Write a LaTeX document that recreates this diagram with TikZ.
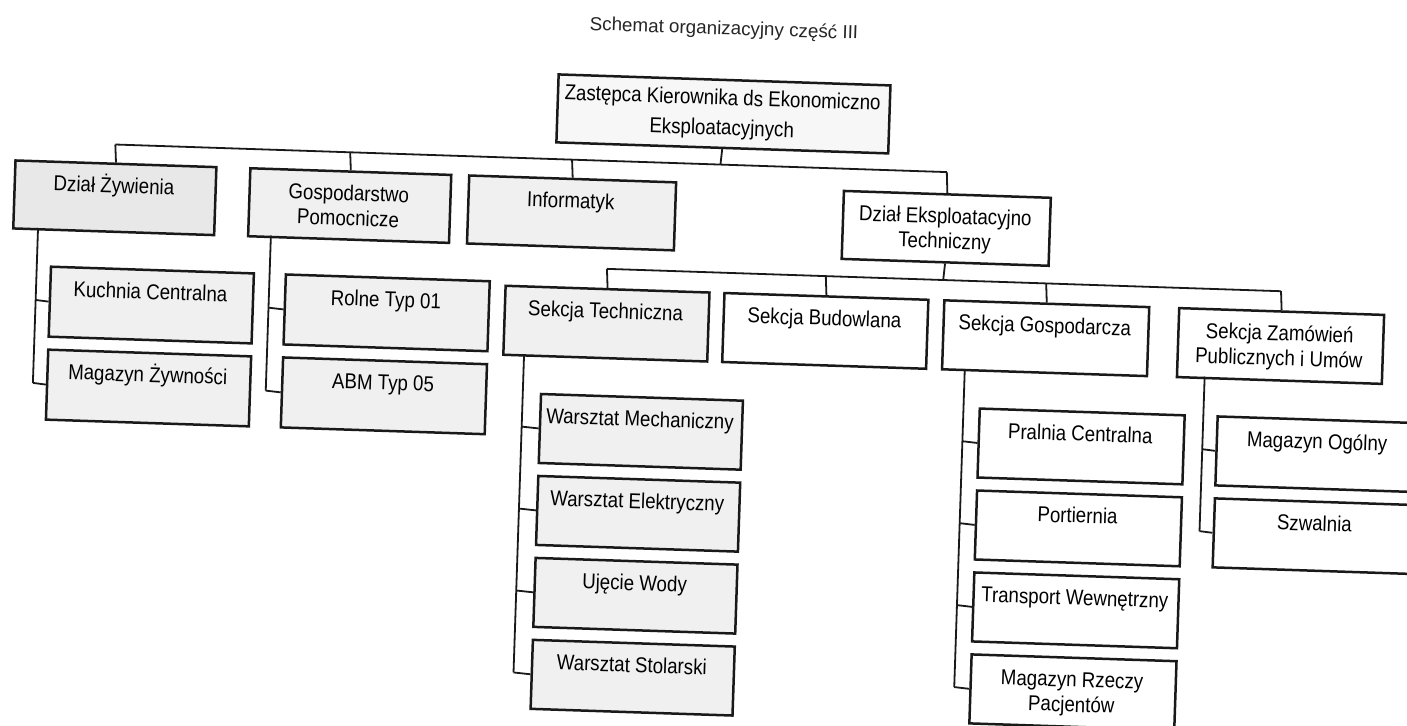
\documentclass[tikz,border=0pt]{standalone}
\usepackage{fontspec}
\setmainfont{Liberation Sans}[FakeStretch=0.87]
\newfontfamily\titlefont{Liberation Sans}
\newcommand\tstrut{\rule{0pt}{11pt}}
\begin{document}
\begin{tikzpicture}[x=0.5pt,y=-0.5pt,
  box/.style={draw=black!90, line width=1.25pt, rectangle, inner sep=0pt, anchor=north west},
  shadeA/.style={fill=black!6},
  shadeB/.style={fill=black!9},
  shadeC/.style={fill=black!3},
  lbl/.style={anchor=north, align=center, inner sep=0pt, font=\fontsize{10.75}{12.5}\selectfont},
  conn/.style={draw=black!90, line width=0.9pt},
  ttl/.style={inner sep=0pt, font=\titlefont\fontsize{9.4}{11}\selectfont, text=black!85}]
\fill[white] (0,0) rectangle (1407,725);
\useasboundingbox (0,0) rectangle (1407,725);
\begin{scope}[rotate around={-1.9:(700,360)}, transform shape]
% title
\node[ttl] (title) at (713,29) {Schemat organizacyjny część III};
% top
\node[box,shadeC,minimum width=166pt,minimum height=34pt] (top) at (548,78) {};
\node[lbl,font=\fontsize{10.75}{15}\selectfont] (topt) at (714,82) {\tstrut Zastępca Kierownika ds Ekonomiczno\\Eksploatacyjnych};
% level 1
\node[box,shadeB,minimum width=100.5pt,minimum height=34pt] (dz) at (8,182) {};
\node[lbl] (dzt) at (108.5,190) {\tstrut Dział Żywienia};
\node[box,shadeA,minimum width=100.5pt,minimum height=34pt] (gp) at (243,182) {};
\node[lbl] (gpt) at (343.5,190) {\tstrut Gospodarstwo\\Pomocnicze};
\node[box,shadeA,minimum width=103.5pt,minimum height=34pt] (inf) at (462,182) {};
\node[lbl] (inft) at (565.5,190) {\tstrut Informatyk};
\node[box,minimum width=103.5pt,minimum height=34pt] (de) at (837,185) {};
\node[lbl] (det) at (940.5,193) {\tstrut Dział Eksploatacyjno\\Techniczny};
% level 1 connectors
\coordinate (j0) at (714,164);
\coordinate (j1) at (108.5,164);
\coordinate (j2) at (343.5,164);
\coordinate (j3) at (565.5,164);
\coordinate (j4) at (940.5,164);
\draw[conn] (top.south) -- (j0);
\draw[conn] (j1) -- (j4);
\draw[conn] (j1) -- (dz.north);
\draw[conn] (j2) -- (gp.north);
\draw[conn] (j3) -- (inf.north);
\draw[conn] (j4) -- (de.north);
% Dzial Zywienia children
\node[box,shadeA,minimum width=101.5pt,minimum height=35pt] (kuch) at (47,287) {};
\node[lbl] (kucht) at (148.5,295) {\tstrut Kuchnia Centralna};
\node[box,shadeA,minimum width=101.5pt,minimum height=35pt] (magz) at (47,370) {};
\node[lbl] (magzt) at (148.5,378) {\tstrut Magazyn Żywności};
\coordinate (dzs) at (34,250);
\coordinate (dzc1) at (34,322);
\coordinate (dzc2) at (34,405);
\draw[conn] (dzs) -- (dzc2);
\draw[conn] (dzc1) -- (kuch.west);
\draw[conn] (dzc2) -- (magz.west);
% Gospodarstwo children
\node[box,shadeA,minimum width=102pt,minimum height=35pt] (rol) at (282,287) {};
\node[lbl] (rolt) at (384,295) {\tstrut Rolne Typ 01};
\node[box,shadeA,minimum width=102pt,minimum height=35pt] (abm) at (282,370) {};
\node[lbl] (abmt) at (384,378) {\tstrut ABM Typ 05};
\coordinate (gs) at (267,250);
\coordinate (gc1) at (267,322);
\coordinate (gc2) at (267,405);
\draw[conn] (gs) -- (gc2);
\draw[conn] (gc1) -- (rol.west);
\draw[conn] (gc2) -- (abm.west);
% level 2
\node[box,shadeA,minimum width=102pt,minimum height=34.5pt] (st) at (502,291) {};
\node[lbl] (stt) at (604,299) {\tstrut Sekcja Techniczna};
\node[box,minimum width=102pt,minimum height=34.5pt] (sb) at (721,291) {};
\node[lbl] (sbt) at (823,299) {\tstrut Sekcja Budowlana};
\node[box,minimum width=102.5pt,minimum height=34.5pt] (sg) at (941,291) {};
\node[lbl] (sgt) at (1043.5,299) {\tstrut Sekcja Gospodarcza};
\node[box,minimum width=102.5pt,minimum height=34.5pt] (sz) at (1176,291) {};
\node[lbl] (szt) at (1278.5,299) {\tstrut Sekcja Zamówień\\Publicznych i Umów};
\coordinate (k0) at (940.5,272);
\coordinate (k1) at (604,272);
\coordinate (k2) at (823,272);
\coordinate (k3) at (1043.5,272);
\coordinate (k4) at (1278.5,272);
\draw[conn] (de.south) -- (k0);
\draw[conn] (k1) -- (k4);
\draw[conn] (k1) -- (st.north);
\draw[conn] (k2) -- (sb.north);
\draw[conn] (k3) -- (sg.north);
\draw[conn] (k4) -- (sz.north);
% Sekcja Techniczna children
\node[box,shadeA,minimum width=101pt,minimum height=34.5pt] (wm) at (541,398) {};
\node[lbl] (wmt) at (642,406) {\tstrut Warsztat Mechaniczny};
\node[box,shadeA,minimum width=101pt,minimum height=34.5pt] (we) at (541,480) {};
\node[lbl] (wet) at (642,488) {\tstrut Warsztat Elektryczny};
\node[box,shadeA,minimum width=101pt,minimum height=34.5pt] (uw) at (541,562) {};
\node[lbl] (uwt) at (642,570) {\tstrut Ujęcie Wody};
\node[box,shadeA,minimum width=101pt,minimum height=34.5pt] (ws) at (541,644) {};
\node[lbl] (wst) at (642,652) {\tstrut Warsztat Stolarski};
\coordinate (sts) at (524,360);
\coordinate (stc1) at (524,432.5);
\coordinate (stc2) at (524,514.5);
\coordinate (stc3) at (524,596.5);
\coordinate (stc4) at (524,678.5);
\draw[conn] (sts) -- (stc4);
\draw[conn] (stc1) -- (wm.west);
\draw[conn] (stc2) -- (we.west);
\draw[conn] (stc3) -- (uw.west);
\draw[conn] (stc4) -- (ws.west);
% Sekcja Gospodarcza children
\node[box,minimum width=102.5pt,minimum height=34.5pt] (pc) at (980,398) {};
\node[lbl] (pct) at (1082.5,406) {\tstrut Pralnia Centralna};
\node[box,minimum width=102.5pt,minimum height=34.5pt] (po) at (980,480) {};
\node[lbl] (pot) at (1082.5,488) {\tstrut Portiernia};
\node[box,minimum width=102.5pt,minimum height=34.5pt] (tw) at (980,562) {};
\node[lbl] (twt) at (1082.5,570) {\tstrut Transport Wewnętrzny};
\node[box,minimum width=102.5pt,minimum height=34.5pt] (mr) at (980,644) {};
\node[lbl] (mrt) at (1082.5,652) {\tstrut Magazyn Rzeczy\\Pacjentów};
\coordinate (sgs) at (965,360);
\coordinate (sgc1) at (965,432.5);
\coordinate (sgc2) at (965,514.5);
\coordinate (sgc3) at (965,596.5);
\coordinate (sgc4) at (965,678.5);
\draw[conn] (sgs) -- (sgc4);
\draw[conn] (sgc1) -- (pc.west);
\draw[conn] (sgc2) -- (po.west);
\draw[conn] (sgc3) -- (tw.west);
\draw[conn] (sgc4) -- (mr.west);
% Sekcja Zamowien children
\node[box,minimum width=101.5pt,minimum height=34.5pt] (mo) at (1218,398) {};
\node[lbl] (mot) at (1319.5,406) {\tstrut Magazyn Ogólny};
\node[box,minimum width=101.5pt,minimum height=34.5pt] (sw) at (1218,480) {};
\node[lbl] (swt) at (1319.5,488) {\tstrut Szwalnia};
\coordinate (szs) at (1205,360);
\coordinate (szc1) at (1205,432.5);
\coordinate (szc2) at (1205,514.5);
\draw[conn] (szs) -- (szc2);
\draw[conn] (szc1) -- (mo.west);
\draw[conn] (szc2) -- (sw.west);
\end{scope}
\end{tikzpicture}
\end{document}
